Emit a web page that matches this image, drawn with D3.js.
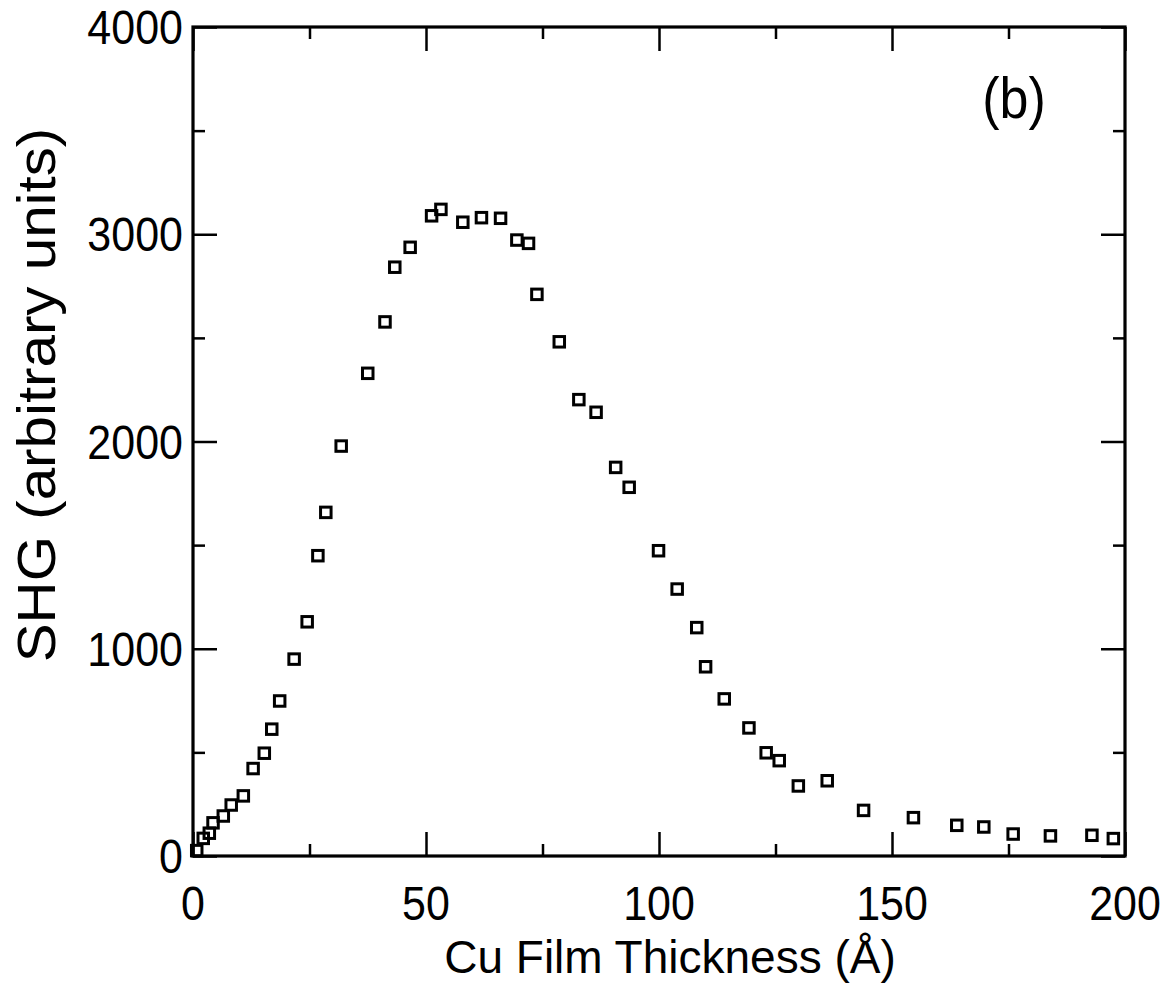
<!DOCTYPE html>
<html>
<head>
<meta charset="utf-8">
<script src="https://cdn.jsdelivr.net/npm/d3@7"></script>
<style>
  body { margin: 0; background: #fff; }
  text { font-family: "Liberation Sans", Arial, sans-serif; fill: #000; }
</style>
</head>
<body>
<div id="chart-area"></div>
<script>
// Cu film thickness (Angstrom) and SHG signal (arbitrary units)
var thickness = [0.8, 2.2, 3.5, 4.3, 6.5, 8.2, 10.8, 12.9, 15.3, 16.9,
  18.6, 21.7, 24.5, 26.8, 28.5, 31.8, 37.5, 41.2, 43.3, 46.6,
  51.2, 53.2, 57.9, 61.9, 66.0, 69.5, 72.0, 73.8, 78.6, 82.8,
  86.5, 90.7, 93.6, 99.9, 103.9, 108.1, 110.0, 114.0, 119.3, 123.0,
  125.8, 129.9, 136.1, 143.9, 154.6, 163.9, 169.7, 176.0, 184.0, 192.9, 197.5]
var shg = [26, 85, 110, 160, 193, 246, 290, 422, 496, 612,
  748, 950, 1130, 1449, 1658, 1978, 2329, 2577, 2841, 2937,
  3089, 3120, 3058, 3080, 3077, 2972, 2956, 2710, 2481, 2202,
  2141, 1875, 1779, 1473, 1288, 1102, 913, 758, 618, 498,
  460, 338, 363, 220, 185, 148, 140, 106, 97, 100, 84]

var xTicks = [0, 50, 100, 150, 200]
var xMinor = [25, 75, 125, 175]
var yTicks = [0, 1000, 2000, 3000, 4000]
var yMinor = [500, 1500, 2500, 3500]

var margin = {left:193, right:45, top:27, bottom:127}
var width = 1170 - margin.left - margin.right
var height = 983 - margin.top - margin.bottom

var svg = d3.select("#chart-area").append("svg")
    .attr("width", 1170)
    .attr("height", 983)

var g = svg.append("g")
  .attr("transform", "translate(" + margin.left + "," + margin.top + ")")

var x = d3.scaleLinear().domain([0, 200]).range([0, width])
var y = d3.scaleLinear().domain([0, 4000]).range([height, 0])

// the scanned lettering is a little taller than it is wide
var stretch = 1.12

// inward ticks on all four sides
var major = 24, minor = 12
function tickAxis(axis, vals, len) {
  return axis.tickValues(vals).tickSize(-len).tickFormat("")
}
function styleAxis(sel) {
  sel.select(".domain").remove()
  sel.selectAll(".tick line").attr("stroke", "#000").attr("stroke-width", 2.5)
}

g.append("g").attr("transform", "translate(0," + height + ")")
  .call(tickAxis(d3.axisBottom(x), xTicks, major)).call(styleAxis)
g.append("g").attr("transform", "translate(0," + height + ")")
  .call(tickAxis(d3.axisBottom(x), xMinor, minor)).call(styleAxis)
g.append("g")
  .call(tickAxis(d3.axisTop(x), xTicks, major)).call(styleAxis)
g.append("g")
  .call(tickAxis(d3.axisTop(x), xMinor, minor)).call(styleAxis)
g.append("g")
  .call(tickAxis(d3.axisLeft(y), yTicks, major)).call(styleAxis)
g.append("g")
  .call(tickAxis(d3.axisLeft(y), yMinor, minor)).call(styleAxis)
g.append("g").attr("transform", "translate(" + width + ",0)")
  .call(tickAxis(d3.axisRight(y), yTicks, major)).call(styleAxis)
g.append("g").attr("transform", "translate(" + width + ",0)")
  .call(tickAxis(d3.axisRight(y), yMinor, minor)).call(styleAxis)

// frame
g.append("rect")
  .attr("width", width)
  .attr("height", height)
  .attr("fill", "none")
  .attr("stroke", "#000")
  .attr("stroke-width", 3.2)

// tick labels
g.selectAll(".xlab").data(xTicks).enter().append("text")
  .attr("transform", function(d) {
    return "translate(" + x(d) + "," + (height + 64) + ") scale(1," + stretch + ")"
  })
  .attr("text-anchor", "middle")
  .style("font-size", "43px")
  .text(function(d) { return d })

g.selectAll(".ylab").data(yTicks).enter().append("text")
  .attr("transform", function(d) {
    return "translate(-10," + (y(d) + 17) + ") scale(1," + stretch + ")"
  })
  .attr("text-anchor", "end")
  .style("font-size", "43px")
  .text(function(d) { return d })

// axis titles
svg.append("text")
  .attr("x", 670)
  .attr("y", 973)
  .attr("text-anchor", "middle")
  .style("font-size", "46px")
  .text("Cu Film Thickness (Å)")

svg.append("text")
  .attr("transform", "translate(55,395) rotate(-90) scale(1.08,1)")
  .attr("text-anchor", "middle")
  .style("font-size", "54px")
  .text("SHG (arbitrary units)")

// panel label
svg.append("text")
  .attr("transform", "translate(1014,118) scale(1,1.1)")
  .attr("text-anchor", "middle")
  .style("font-size", "52px")
  .text("(b)")

// data markers: open squares
var s = 10.5
g.selectAll(".pt").data(thickness).enter().append("rect")
  .attr("class", "pt")
  .attr("x", function(d) { return x(d) - s / 2 })
  .attr("y", function(d, i) { return y(shg[i]) - s / 2 })
  .attr("width", s)
  .attr("height", s)
  .attr("fill", "none")
  .attr("stroke", "#000")
  .attr("stroke-width", 3)
</script>
</body>
</html>
